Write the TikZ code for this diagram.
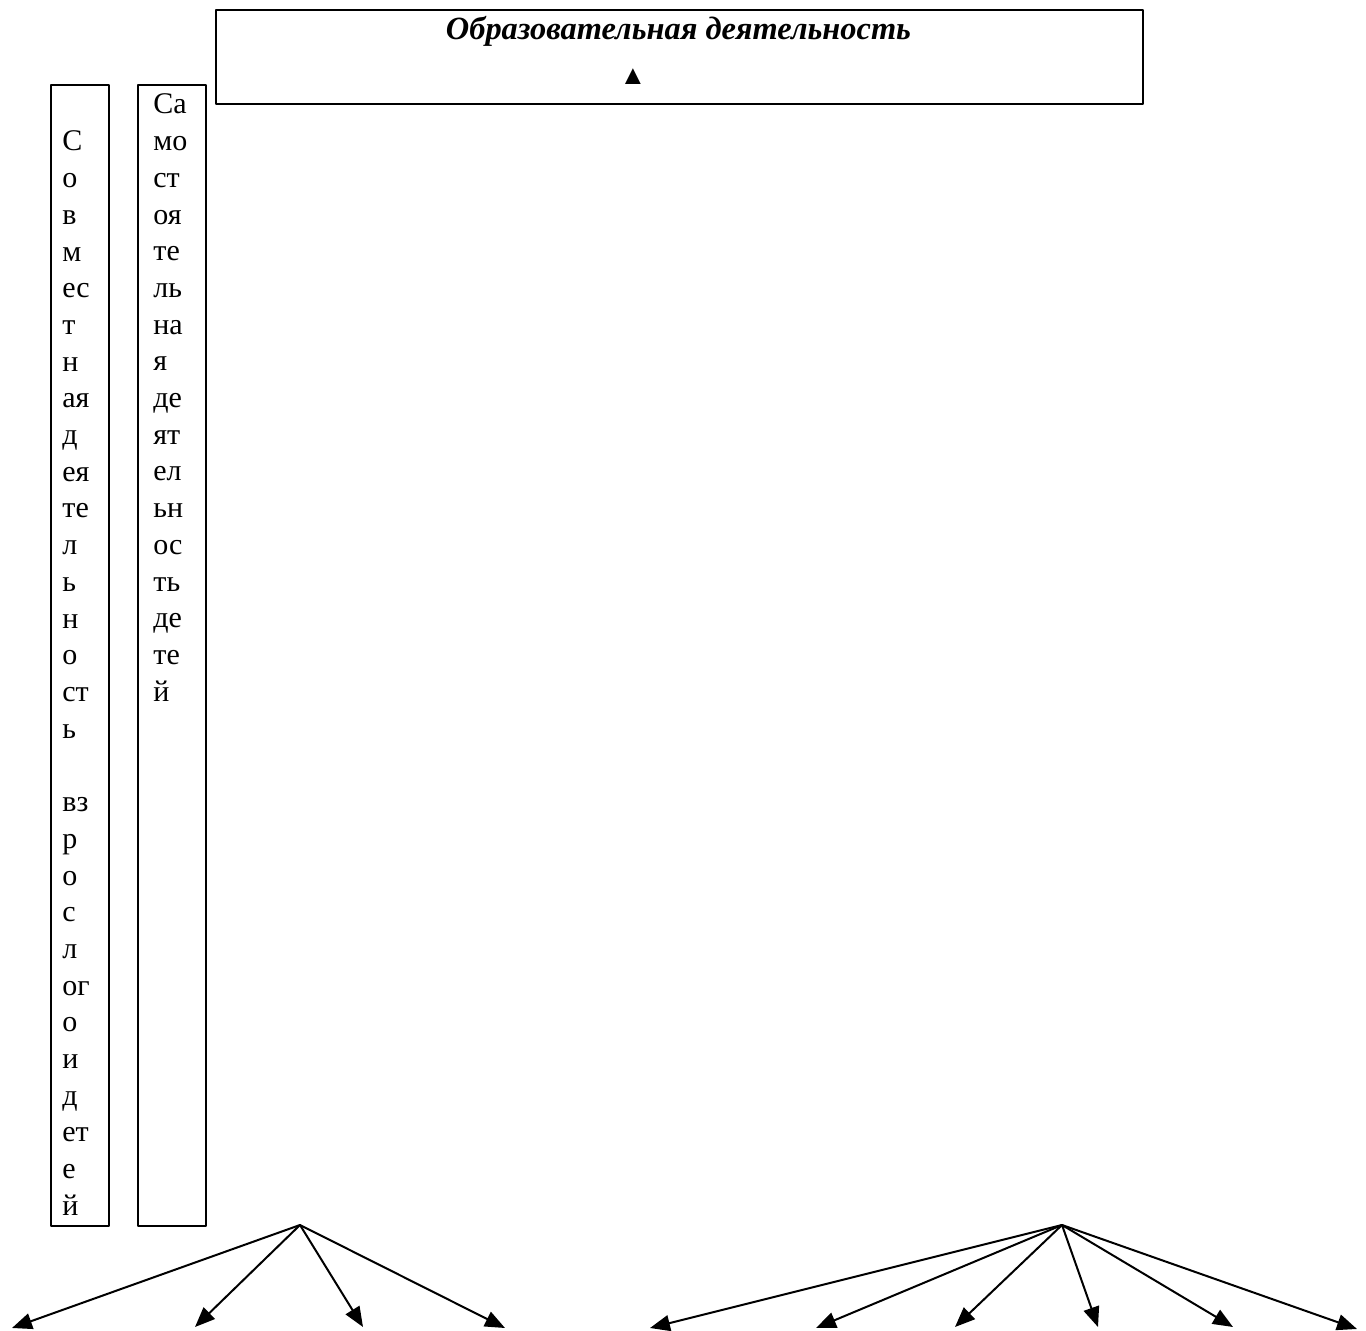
\documentclass[tikz,border=0pt]{standalone}
\usepackage{fontspec}
\setmainfont{Liberation Serif}
\usetikzlibrary{arrows.meta}

\begin{document}
\begin{tikzpicture}[x=0.5pt,y=-0.5pt,line cap=round,line join=round,
  >={Triangle[length=10pt,width=8pt]},
  frame/.style={draw,line width=1pt,inner sep=0pt,anchor=north west},
  letters/.style={font=\fontsize{15}{18}\selectfont,anchor=base west,inner sep=0pt},
  fan/.style={line width=1pt,->}]
  \useasboundingbox (0,0) rectangle (1366,1331);
  % boxes
  \node[frame,minimum width=463.5pt,minimum height=47pt] (edu) at (215,9) {};
  \node[frame,minimum width=29pt,minimum height=570.5pt] (joint) at (50,84) {};
  \node[frame,minimum width=34pt,minimum height=570.5pt] (self) at (137,84) {};
  \node[font=\fontsize{16.2}{19}\selectfont\bfseries\itshape,anchor=base,inner sep=0pt] (title) at (678.5,40) {Образовательная деятельность};
  \node[font=\fontsize{13.5}{16}\selectfont,anchor=base,inner sep=0pt] (mark) at (633,85) {▲};
  % column texts
  \foreach \w [count=\i] in {С,о,в,м,ес,т,н,ая,д,ея,те,л,ь,н,о,ст,ь,{},вз,р,о,с,л,ог,о,и,д,ет,е,й}
    \node[letters] (joint\i) at (62,{151+36.7*(\i-1)}) {\w};
  \foreach \w [count=\i] in {Са,мо,ст,оя,те,ль,на,я,де,ят,ел,ьн,ос,ть,де,те,й}
    \node[letters] (self\i) at (153,{114+36.7*(\i-1)}) {\w};
  % fans of arrows
  \coordinate (hubA) at (300,1225);
  \coordinate (hubB) at (1062,1225);
  \foreach \x/\y [count=\i] in {12/1328,195/1327,363/1327,505/1328}{
    \coordinate (tipA\i) at (\x,\y);
    \draw[fan] (hubA) -- (tipA\i);
  }
  \foreach \x/\y [count=\i] in {650/1328,816/1328,955/1327,1098/1327,1233/1327,1357/1329}{
    \coordinate (tipB\i) at (\x,\y);
    \draw[fan] (hubB) -- (tipB\i);
  }
\end{tikzpicture}
\end{document}
